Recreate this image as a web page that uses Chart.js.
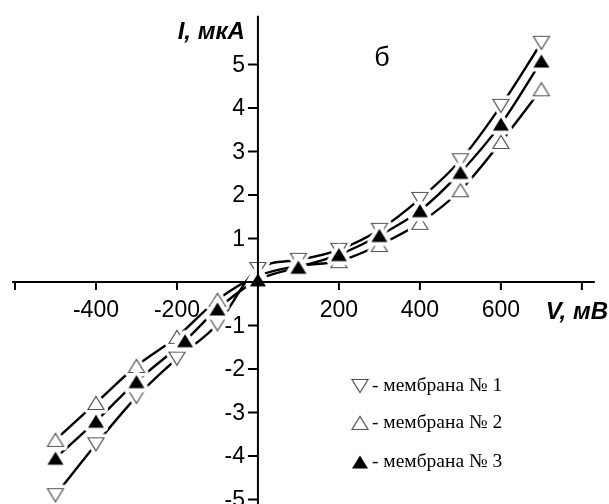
<!DOCTYPE html>
<html>
<head>
<meta charset="utf-8">
<script src="https://cdn.jsdelivr.net/npm/chart.js@4"></script>
<style>
  html, body { margin: 0; padding: 0; background: #fff; }
  #wrap { width: 609px; height: 504px; position: relative; }
</style>
</head>
<body>
<div id="wrap"><canvas id="ivChart"></canvas></div>
<script>
/* global document, Chart */

// Data: V in mV, I in uA
let volts1 = [-500, -400, -300, -200, -100, 0, 100, 200, 300, 400, 500, 600, 700];
let current1 = [-4.9, -3.73, -2.64, -1.76, -0.97, 0.3, 0.51, 0.74, 1.2, 1.91, 2.8, 4.05, 5.5];

let volts2 = [-500, -400, -300, -200, -100, 0, 100, 200, 300, 400, 500, 600, 700];
let current2 = [-3.63, -2.78, -1.93, -1.26, -0.41, 0.14, 0.37, 0.48, 0.85, 1.36, 2.11, 3.22, 4.43];

let volts3 = [-500, -400, -300, -180, -100, 0, 100, 200, 300, 400, 500, 600, 700];
let current3 = [-4.05, -3.2, -2.29, -1.35, -0.62, 0.05, 0.34, 0.63, 1.07, 1.64, 2.52, 3.63, 5.08];

let seriesNames = ['мембрана № 1', 'мембрана № 2', 'мембрана № 3'];

let xTicks = [-600, -400, -200, 200, 400, 600, 800];
let xTickLabels = [-400, -200, 200, 400, 600];
let yTicks = [5, 4, 3, 2, 1, -1, -2, -3, -4, -5];
let yTickLabels = [5, 4, 3, 2, 1, -1, -2, -3, -4, -5];

let xTitle = 'V, мВ';
let yTitle = 'I, мкА';
let panelLabel = 'б';

function toPoints(xs, ys) {
    let pts = [];
    for (let i = 0; i < xs.length; i++) {
        pts.push({ x: xs[i], y: ys[i] });
    }
    return pts;
}

// marker images with a white rim so the lines break around them
function makeMarker(kind) {
    let c = document.createElement('canvas');
    c.width = 28;
    c.height = 28;
    let g = c.getContext('2d');
    let m = 14;
    g.beginPath();
    if (kind == 'down') {
        g.moveTo(m - 8, m - 6.5);
        g.lineTo(m + 8, m - 6.5);
        g.lineTo(m, m + 6.5);
    } else {
        g.moveTo(m - 8, m + 6.5);
        g.lineTo(m + 8, m + 6.5);
        g.lineTo(m, m - 6.5);
    }
    g.closePath();
    g.lineJoin = 'round';
    g.strokeStyle = '#fff';
    g.lineWidth = 8;
    g.stroke();
    if (kind == 'filled') {
        g.fillStyle = '#000';
        g.fill();
    } else {
        g.fillStyle = '#fff';
        g.fill();
        g.lineJoin = 'miter';
        g.strokeStyle = '#555';
        g.lineWidth = 1.2;
        g.stroke();
    }
    return c;
}

let markers = [makeMarker('down'), makeMarker('up'), makeMarker('filled')];
let allPoints = [toPoints(volts1, current1), toPoints(volts2, current2), toPoints(volts3, current3)];

let datasets = [];
for (let i = 0; i < 3; i++) {
    datasets.push({
        label: seriesNames[i] + ' line',
        data: allPoints[i],
        showLine: true,
        borderColor: '#000',
        borderWidth: 2.4,
        cubicInterpolationMode: 'monotone',
        pointRadius: 0,
        order: 10
    });
}
for (let i = 0; i < 3; i++) {
    datasets.push({
        label: seriesNames[i],
        data: allPoints[i],
        showLine: false,
        pointStyle: markers[i],
        pointRadius: 8,
        order: 3 - i
    });
}

let axesPlugin = {
    id: 'crossAxes',
    afterDatasetsDraw(chart) {
        let ctx = chart.ctx;
        let xs = chart.scales.x;
        let ys = chart.scales.y;
        let x0 = xs.getPixelForValue(0);
        let y0 = ys.getPixelForValue(0);

        ctx.save();
        ctx.strokeStyle = '#000';
        ctx.fillStyle = '#000';
        ctx.lineWidth = 2;

        // axis lines
        ctx.beginPath();
        ctx.moveTo(xs.getPixelForValue(-607), y0);
        ctx.lineTo(xs.getPixelForValue(832), y0);
        ctx.moveTo(x0, ys.getPixelForValue(6.12));
        ctx.lineTo(x0, ys.getPixelForValue(-5.2));
        ctx.stroke();

        // tick marks
        ctx.beginPath();
        xTicks.forEach(v => {
            let px = xs.getPixelForValue(v);
            ctx.moveTo(px, y0);
            ctx.lineTo(px, y0 + 8);
        });
        yTicks.forEach(v => {
            let py = ys.getPixelForValue(v);
            ctx.moveTo(x0 - 10, py);
            ctx.lineTo(x0, py);
        });
        ctx.stroke();

        // tick labels
        ctx.font = '23px "Liberation Sans", Arial, sans-serif';
        ctx.textAlign = 'center';
        ctx.textBaseline = 'top';
        xTickLabels.forEach(v => {
            ctx.fillText(String(v), xs.getPixelForValue(v), y0 + 17);
        });
        ctx.textAlign = 'right';
        ctx.textBaseline = 'middle';
        yTickLabels.forEach(v => {
            ctx.fillText(String(v), x0 - 13, ys.getPixelForValue(v) + 1);
        });

        // axis titles
        ctx.font = 'italic bold 24px "Liberation Sans", Arial, sans-serif';
        ctx.textAlign = 'right';
        ctx.fillText(yTitle, x0 - 13, 32);
        ctx.fillText(xTitle, 608, y0 + 30);

        ctx.font = '27px "Liberation Sans", Arial, sans-serif';
        ctx.textAlign = 'center';
        ctx.fillText(panelLabel, 382, 59);

        // legend
        ctx.font = '19.5px "Liberation Serif", "Times New Roman", serif';
        ctx.textAlign = 'left';
        let rows = [386, 423, 462];
        for (let i = 0; i < 3; i++) {
            let mk = markers[i];
            ctx.drawImage(mk, 360 - mk.width / 2, rows[i] - mk.height / 2);
            ctx.fillText('- ' + seriesNames[i], 372, rows[i]);
        }
        ctx.restore();
    }
};

new Chart(document.getElementById('ivChart'), {
    type: 'scatter',
    data: { datasets: datasets },
    options: {
        responsive: true,
        maintainAspectRatio: false,
        animation: false,
        events: [],
        layout: { padding: 0, autoPadding: false },
        plugins: {
            legend: { display: false },
            tooltip: { enabled: false }
        },
        scales: {
            x: { type: 'linear', min: -637, max: 867, display: false },
            y: { type: 'linear', min: -5.103, max: 6.483, display: false }
        }
    },
    plugins: [axesPlugin]
});
</script>
</body>
</html>
